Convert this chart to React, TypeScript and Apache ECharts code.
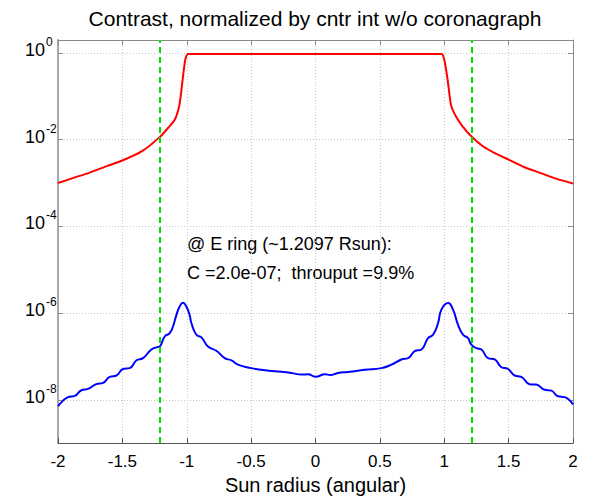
import React, { useEffect, useRef } from "react";
import * as echarts from "echarts";

// ---- data (y values stored as log10 exponents) ----
const titleText = "Contrast, normalized by cntr int w/o coronagraph";
const xAxisName = "Sun radius (angular)";
const yTickExponents = [-8, -6, -4, -2, 0];
const ringRadius = 1.2097;
const annotationLines = ["@ E ring (~1.2097 Rsun):", "C =2.0e-07;  throuput =9.9%"];

const redX = [
  -2.0, -1.88, -1.764, -1.62, -1.5, -1.35, -1.21, -1.145, -1.093, -1.062, -1.047,
  -1.029, -1.011, -0.99, -0.5, 0.0, 0.5, 0.98, 1.0, 1.026, 1.052, 1.09, 1.142,
  1.21, 1.3, 1.4, 1.5, 1.62, 1.75, 1.88, 2.0,
];
const redE = [
  -3.0, -2.88, -2.77, -2.61, -2.48, -2.27, -1.94, -1.73, -1.54, -1.27, -1.0,
  -0.54, -0.15, -0.02, -0.02, -0.02, -0.02, -0.02, -0.15, -0.61, -1.19, -1.46, -1.69,
  -1.92, -2.15, -2.32, -2.46, -2.63, -2.77, -2.91, -3.01,
];

const blueX = [
  -2.0, -1.96, -1.922, -1.87, -1.818, -1.767, -1.702, -1.65, -1.598, -1.546, -1.495,
  -1.443, -1.39, -1.34, -1.275, -1.236, -1.21, -1.171, -1.132, -1.107, -1.08, -1.055,
  -1.029, -1.003, -0.977, -0.964, -0.925, -0.886, -0.835, -0.77, -0.705, -0.653, -0.602,
  -0.498, -0.42, -0.317, -0.187, -0.11, -0.058, 0.0, 0.075, 0.114, 0.175, 0.253, 0.382,
  0.512, 0.59, 0.667, 0.719, 0.771, 0.823, 0.874, 0.913, 0.952, 0.978, 1.03, 1.068,
  1.107, 1.146, 1.185, 1.21, 1.25, 1.288, 1.34, 1.392, 1.444, 1.495, 1.547, 1.599,
  1.663, 1.715, 1.78, 1.832, 1.883, 1.935, 2.0,
];
const blueE = [
  -8.15, -8.02, -7.94, -7.91, -7.78, -7.75, -7.64, -7.61, -7.47, -7.44, -7.29,
  -7.27, -7.09, -7.04, -6.84, -6.79, -6.77, -6.54, -6.46, -6.31, -6.04, -5.85,
  -5.76, -5.85, -6.05, -6.23, -6.5, -6.56, -6.77, -6.87, -7.04, -7.09, -7.19,
  -7.27, -7.31, -7.34, -7.38, -7.42, -7.41, -7.47, -7.41, -7.43, -7.38, -7.36, -7.31,
  -7.27, -7.19, -7.07, -7.04, -6.88, -6.84, -6.58, -6.5, -6.23, -5.92, -5.77, -5.92,
  -6.27, -6.5, -6.58, -6.73, -6.81, -6.84, -7.04, -7.07, -7.25, -7.29, -7.44, -7.47,
  -7.64, -7.65, -7.77, -7.79, -7.92, -7.94, -8.11,
];

const FONT = "'Liberation Sans', Arial, Helvetica, sans-serif";
const frameColor = "#8a8a8a";
const yMin = -9;
const yMax = Math.log10(2);

export default function App() {
  const ref = useRef<HTMLDivElement>(null);

  useEffect(() => {
    if (!ref.current) return;
    const chart = echarts.init(ref.current, undefined, { renderer: "svg" });

    const gridLine = { show: true, lineStyle: { color: "#c8c8c8", width: 1, type: [1, 2] as any } };

    const option: any = {
      animation: false,
      backgroundColor: "#ffffff",
      grid: { left: 58, right: 17, top: 40, bottom: 55, containLabel: false },
      xAxis: [
        {
          type: "value",
          position: "bottom",
          min: -2,
          max: 2,
          interval: 0.5,
          axisLine: { show: true, onZero: false, lineStyle: { color: "#555", width: 1 } },
          axisTick: { show: true, inside: true, length: 5, lineStyle: { color: "#555" } },
          axisLabel: { color: "#000", fontSize: 17, fontFamily: FONT, margin: 10 },
          splitLine: gridLine,
          name: xAxisName,
          nameLocation: "middle",
          nameGap: 30,
          nameTextStyle: { color: "#000", fontSize: 20, fontFamily: FONT },
        },
        {
          type: "value",
          position: "top",
          min: -2,
          max: 2,
          interval: 0.5,
          axisLine: { show: true, onZero: false, lineStyle: { color: frameColor, width: 1 } },
          axisTick: { show: true, inside: true, length: 5, lineStyle: { color: frameColor } },
          axisLabel: { show: false },
          splitLine: { show: false },
        },
      ],
      yAxis: [
        {
          type: "value",
          position: "left",
          min: yMin,
          max: yMax,
          axisLine: { show: true, onZero: false, lineStyle: { color: "#a8a8a8", width: 2 } },
          axisTick: {
            show: true,
            inside: true,
            length: 5,
            customValues: yTickExponents,
            lineStyle: { color: frameColor },
          },
          axisLabel: {
            customValues: yTickExponents,
            align: "left",
            margin: 33,
            formatter: (v: number) => `{b|10}{e|${Math.round(v)}}`,
            rich: {
              b: {
                fontSize: 18,
                fontFamily: FONT,
                color: "#000",
                lineHeight: 18,
                padding: [0, 0, 6, 0],
              },
              e: {
                fontSize: 12,
                fontFamily: FONT,
                color: "#000",
                lineHeight: 12,
                padding: [0, 0, 22, 1],
              },
            },
          },
          splitLine: gridLine,
        },
        {
          type: "value",
          position: "right",
          min: yMin,
          max: yMax,
          axisLine: { show: true, onZero: false, lineStyle: { color: frameColor, width: 1 } },
          axisTick: {
            show: true,
            inside: true,
            length: 5,
            customValues: yTickExponents,
            lineStyle: { color: frameColor },
          },
          axisLabel: { show: false },
          splitLine: { show: false },
        },
      ],
      series: [
        {
          name: "normalized contrast",
          type: "line",
          xAxisIndex: 0,
          yAxisIndex: 0,
          data: redX.map((x, i) => [x, redE[i]]),
          showSymbol: false,
          smooth: 0.2,
          lineStyle: { color: "#ff0000", width: 2 },
          z: 3,
        },
        {
          name: "coronagraph contrast",
          type: "line",
          xAxisIndex: 0,
          yAxisIndex: 0,
          data: blueX.map((x, i) => [x, blueE[i]]),
          showSymbol: false,
          smooth: 0.5,
          lineStyle: { color: "#0000ff", width: 2 },
          z: 3,
        },
        {
          name: "E ring",
          type: "line",
          xAxisIndex: 0,
          yAxisIndex: 0,
          data: [],
          z: 5,
          markLine: {
            silent: true,
            symbol: "none",
            label: { show: false },
            lineStyle: { color: "#00e000", width: 2, type: [6, 4] },
            data: [{ xAxis: -ringRadius }, { xAxis: ringRadius }],
          },
        },
      ],
      graphic: [
        {
          type: "text",
          x: 315,
          y: 18,
          style: {
            text: titleText,
            fontSize: 21,
            fontFamily: FONT,
            fill: "#000",
            align: "center",
            verticalAlign: "middle",
          },
        },
        {
          type: "text",
          x: 187,
          y: 244,
          style: {
            text: annotationLines[0],
            fontSize: 18,
            fontFamily: FONT,
            fill: "#000",
            align: "left",
            verticalAlign: "middle",
          },
        },
        {
          type: "text",
          x: 187,
          y: 273,
          style: {
            text: annotationLines[1],
            fontSize: 18,
            fontFamily: FONT,
            fill: "#000",
            align: "left",
            verticalAlign: "middle",
          },
        },
      ],
    };

    chart.setOption(option);
    return () => chart.dispose();
  }, []);

  return <div ref={ref} style={{ width: 590, height: 500, position: "absolute", left: 0, top: 0 }} />;
}
